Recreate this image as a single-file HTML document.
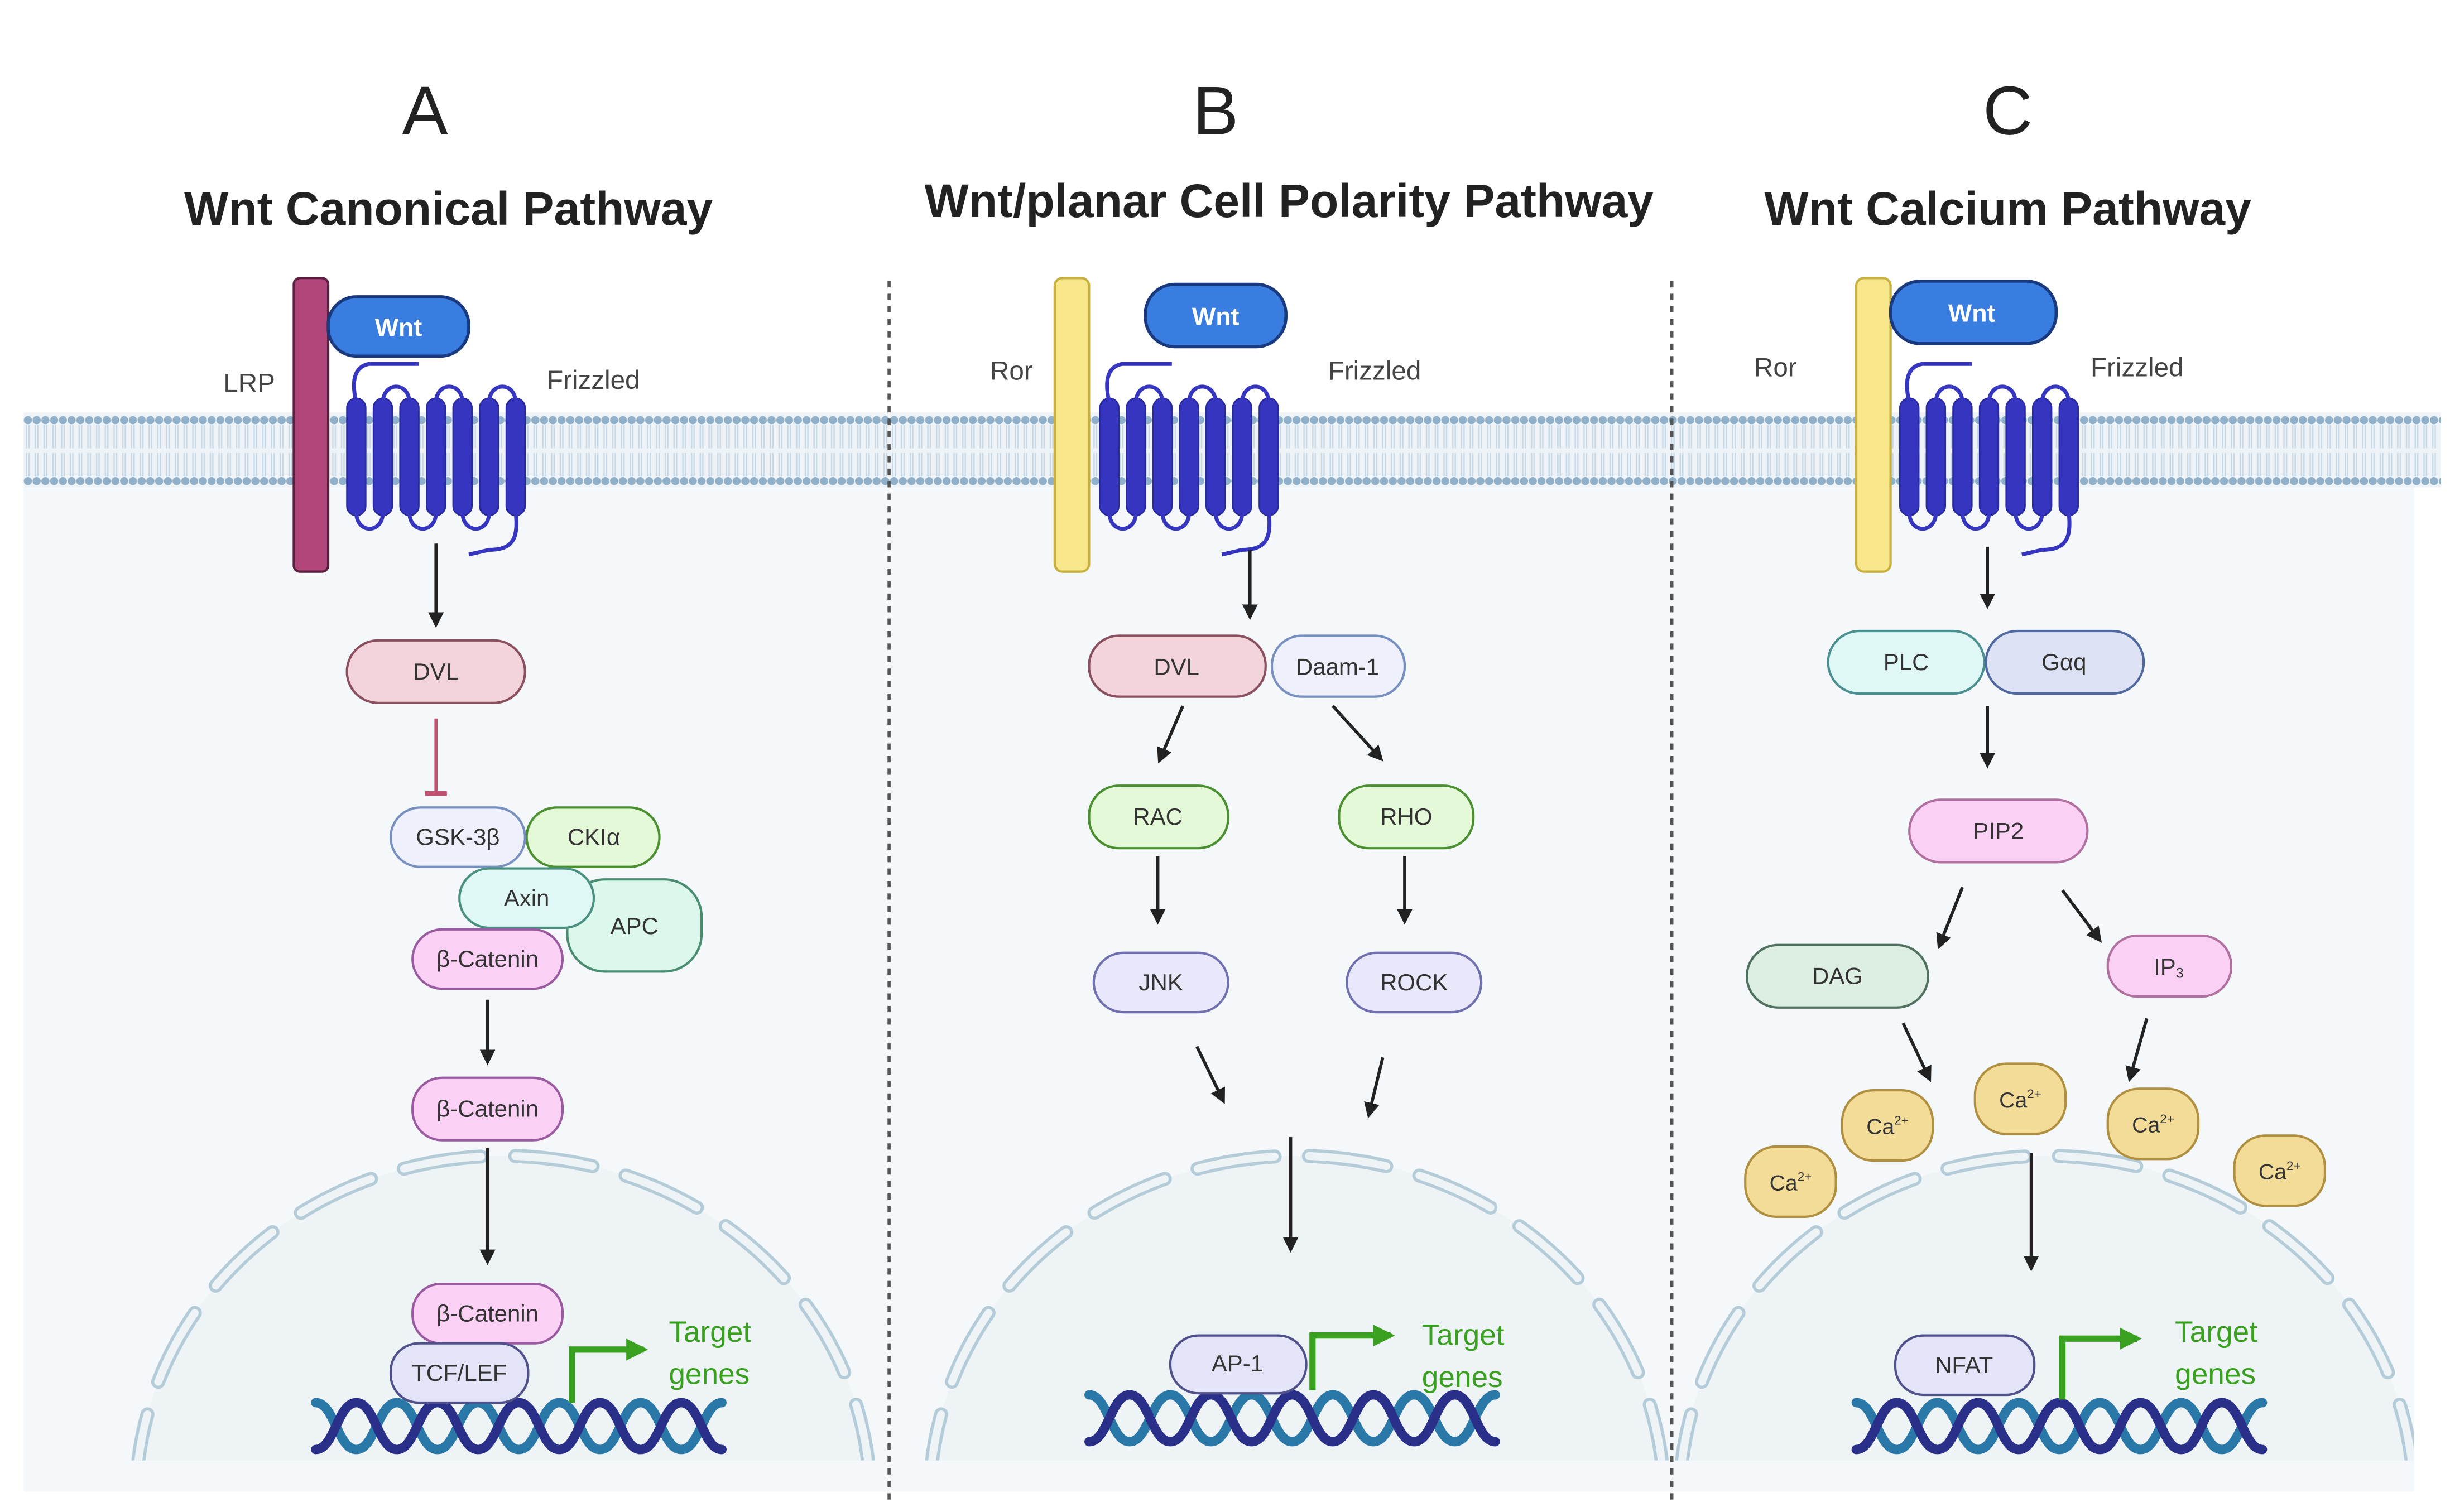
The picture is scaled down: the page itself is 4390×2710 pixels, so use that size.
<!DOCTYPE html>
<html><head><meta charset="utf-8"><style>
html,body{margin:0;padding:0;background:#fff;width:4390px;height:2710px;overflow:hidden}
svg{display:block}
text{font-family:"Liberation Sans",sans-serif}
</style></head><body>
<svg width="4390" height="2710" viewBox="0 0 1568 968" xmlns="http://www.w3.org/2000/svg">
<defs>
<pattern id="mem" x="15" y="0" width="5.6" height="968" patternUnits="userSpaceOnUse">
<line x1="2.0" y1="272" x2="2.0" y2="287" stroke="#c8d8e4" stroke-width="0.9"/>
<line x1="3.6" y1="272" x2="3.6" y2="287" stroke="#c8d8e4" stroke-width="0.9"/>
<line x1="2.0" y1="290" x2="2.0" y2="305" stroke="#c8d8e4" stroke-width="0.9"/>
<line x1="3.6" y1="290" x2="3.6" y2="305" stroke="#c8d8e4" stroke-width="0.9"/>
<circle cx="2.8" cy="269" r="2.6" fill="#8fb0c8"/>
<circle cx="2.8" cy="308" r="2.6" fill="#8fb0c8"/>
</pattern>
<g id="fz" fill="none" stroke="#3535c0" stroke-width="2.5">
<rect x="-6" y="255" width="12" height="75" rx="6" fill="#3535c0" stroke="#2a2aa0" stroke-width="1"/>
<rect x="11" y="255" width="12" height="75" rx="6" fill="#3535c0" stroke="#2a2aa0" stroke-width="1"/>
<rect x="28" y="255" width="12" height="75" rx="6" fill="#3535c0" stroke="#2a2aa0" stroke-width="1"/>
<rect x="45" y="255" width="12" height="75" rx="6" fill="#3535c0" stroke="#2a2aa0" stroke-width="1"/>
<rect x="62" y="255" width="12" height="75" rx="6" fill="#3535c0" stroke="#2a2aa0" stroke-width="1"/>
<rect x="79" y="255" width="12" height="75" rx="6" fill="#3535c0" stroke="#2a2aa0" stroke-width="1"/>
<rect x="96" y="255" width="12" height="75" rx="6" fill="#3535c0" stroke="#2a2aa0" stroke-width="1"/>
<path d="M17,258 C17,244 34,244 34,258 M51,258 C51,244 68,244 68,258 M85,258 C85,244 102,244 102,258"/>
<path d="M0,328 C0,342 17,342 17,328 M34,328 C34,342 51,342 51,328 M68,328 C68,342 85,342 85,328"/>
<path d="M0,258 C-3,245 -2,235 8,233 L40,233"/>
<path d="M102,328 C104,345 100,352 85,352 L72,355"/>
</g>
<g id="dna" fill="none" stroke-width="6" stroke-linecap="round">
<path d="M0,3 c12,0 14,30 26,30 s14,-30 26,-30 s14,30 26,30 s14,-30 26,-30 s14,30 26,30 s14,-30 26,-30 s14,30 26,30 s14,-30 26,-30 s14,30 26,30 s14,-30 26,-30" stroke="#2a78a8"/>
<path d="M0,33 c12,0 14,-30 26,-30 s14,30 26,30 s14,-30 26,-30 s14,30 26,30 s14,-30 26,-30 s14,30 26,30 s14,-30 26,-30 s14,30 26,30 s14,-30 26,-30 s14,30 26,30" stroke="#2a2f8a"/>
</g>
<marker id="ah" viewBox="0 0 10 10" refX="8" refY="5" markerWidth="5" markerHeight="5" orient="auto"><path d="M0,0 L10,5 L0,10 z" fill="#222"/></marker>
<marker id="gh" viewBox="0 0 10 10" refX="8" refY="5" markerWidth="3.5" markerHeight="3.5" orient="auto"><path d="M0,0 L10,5 L0,10 z" fill="#3aa020"/></marker>
<clipPath id="cl"><rect x="15" y="312" width="1530" height="623"/></clipPath>
</defs>

<rect x="0" y="0" width="1568" height="968" fill="#fff"/>
<rect x="15" y="300" width="1530" height="655" fill="#f5f8fa"/>
<g clip-path="url(#cl)">
<ellipse cx="322" cy="960" rx="235" ry="220" fill="#eef3f6"/>
<ellipse cx="322" cy="960" rx="235" ry="220" fill="none" stroke="#b4ccd8" stroke-width="9" stroke-dasharray="50 22" stroke-linecap="round"/>
<ellipse cx="322" cy="960" rx="235" ry="220" fill="none" stroke="#eef3f6" stroke-width="5" stroke-dasharray="50 22" stroke-linecap="round"/>
<ellipse cx="830" cy="960" rx="235" ry="220" fill="#eef3f6"/>
<ellipse cx="830" cy="960" rx="235" ry="220" fill="none" stroke="#b4ccd8" stroke-width="9" stroke-dasharray="50 22" stroke-linecap="round"/>
<ellipse cx="830" cy="960" rx="235" ry="220" fill="none" stroke="#eef3f6" stroke-width="5" stroke-dasharray="50 22" stroke-linecap="round"/>
<ellipse cx="1310" cy="960" rx="235" ry="220" fill="#eef3f6"/>
<ellipse cx="1310" cy="960" rx="235" ry="220" fill="none" stroke="#b4ccd8" stroke-width="9" stroke-dasharray="50 22" stroke-linecap="round"/>
<ellipse cx="1310" cy="960" rx="235" ry="220" fill="none" stroke="#eef3f6" stroke-width="5" stroke-dasharray="50 22" stroke-linecap="round"/>
</g>
<rect x="15" y="264" width="1547" height="48" fill="#eef3f7"/>
<rect x="15" y="264" width="1547" height="48" fill="url(#mem)"/>

<line x1="569" y1="180" x2="569" y2="960" stroke="#555" stroke-width="2" stroke-dasharray="4 4"/>
<line x1="1070" y1="180" x2="1070" y2="960" stroke="#555" stroke-width="2" stroke-dasharray="4 4"/>

<g fill="#222" text-anchor="middle">
<text x="272" y="86" font-size="44">A</text>
<text x="778" y="86" font-size="44">B</text>
<text x="1285" y="86" font-size="44">C</text>
<text x="287" y="144" font-size="30" font-weight="bold">Wnt Canonical Pathway</text>
<text x="825" y="139" font-size="30" font-weight="bold">Wnt/planar Cell Polarity Pathway</text>
<text x="1285" y="144" font-size="30" font-weight="bold">Wnt Calcium Pathway</text>
</g>

<g font-size="17" fill="#444">
<text x="176" y="251" text-anchor="end">LRP</text>
<text x="350" y="249">Frizzled</text>
<text x="661" y="243" text-anchor="end">Ror</text>
<text x="850" y="243">Frizzled</text>
<text x="1150" y="241" text-anchor="end">Ror</text>
<text x="1338" y="241">Frizzled</text>
</g>

<use href="#fz" x="228"/>
<rect x="188" y="178" width="22" height="188" rx="4" fill="#b0467a" stroke="#5a2040" stroke-width="1.5"/>
<rect x="210" y="190" width="90" height="38" rx="18" fill="#3a7de0" stroke="#1a3a80" stroke-width="2"/>
<text x="255" y="215" font-size="16" font-weight="bold" fill="#fff" text-anchor="middle">Wnt</text>

<use href="#fz" x="710"/>
<rect x="675" y="178" width="22" height="188" rx="5" fill="#f7e68a" stroke="#c8b040" stroke-width="1.5"/>
<rect x="733" y="182" width="90" height="40" rx="19" fill="#3a7de0" stroke="#1a3a80" stroke-width="2"/>
<text x="778" y="208" font-size="16" font-weight="bold" fill="#fff" text-anchor="middle">Wnt</text>

<use href="#fz" x="1222"/>
<rect x="1188" y="178" width="22" height="188" rx="5" fill="#f7e68a" stroke="#c8b040" stroke-width="1.5"/>
<rect x="1210" y="180" width="106" height="40" rx="19" fill="#3a7de0" stroke="#1a3a80" stroke-width="2"/>
<text x="1262" y="206" font-size="16" font-weight="bold" fill="#fff" text-anchor="middle">Wnt</text>

<g stroke="#222" stroke-width="2" marker-end="url(#ah)">
<line x1="279" y1="348" x2="279" y2="400"/>
<line x1="312" y1="640" x2="312" y2="680"/>
<line x1="312" y1="735" x2="312" y2="808"/>
<line x1="800" y1="352" x2="800" y2="395"/>
<line x1="757" y1="452" x2="742" y2="487"/>
<line x1="853" y1="452" x2="884" y2="486"/>
<line x1="741" y1="548" x2="741" y2="590"/>
<line x1="899" y1="548" x2="899" y2="590"/>
<line x1="766" y1="670" x2="783" y2="705"/>
<line x1="885" y1="677" x2="876" y2="714"/>
<line x1="826" y1="728" x2="826" y2="800"/>
<line x1="1272" y1="350" x2="1272" y2="388"/>
<line x1="1272" y1="452" x2="1272" y2="490"/>
<line x1="1256" y1="568" x2="1241" y2="606"/>
<line x1="1320" y1="570" x2="1344" y2="602"/>
<line x1="1218" y1="655" x2="1235" y2="691"/>
<line x1="1374" y1="652" x2="1363" y2="691"/>
<line x1="1300" y1="738" x2="1300" y2="812"/>
</g>
<line x1="279" y1="460" x2="279" y2="508" stroke="#c05070" stroke-width="2"/>
<line x1="272" y1="508" x2="286" y2="508" stroke="#c05070" stroke-width="3"/>

<!-- DNA (behind nuclear nodes) -->
<use href="#dna" x="202" y="895"/>
<use href="#dna" x="697" y="890"/>
<use href="#dna" x="1188" y="895"/>

<g font-size="15" fill="#333" text-anchor="middle" stroke-width="1.5">
<rect x="222" y="410" width="114" height="40" rx="20" fill="#f2d4da" stroke="#8a5060"/>
<text x="279" y="435" stroke="none">DVL</text>

<rect x="337" y="517" width="85" height="38" rx="19" fill="#e4f9d8" stroke="#4a9030"/>
<text x="380" y="541" stroke="none">CKIα</text>
<rect x="250" y="517" width="86" height="38" rx="19" fill="#eef0fc" stroke="#7890c0"/>
<text x="293" y="541" stroke="none">GSK-3β</text>
<rect x="363" y="563" width="86" height="59" rx="24" fill="#dcf8ec" stroke="#4a8c70"/>
<text x="406" y="598" stroke="none">APC</text>
<rect x="294" y="556" width="86" height="38" rx="19" fill="#e0f8f5" stroke="#4a9080"/>
<text x="337" y="580" stroke="none">Axin</text>
<rect x="264" y="595" width="96" height="38" rx="19" fill="#fad0f4" stroke="#9a5aa0"/>
<text x="312" y="619" stroke="none">β-Catenin</text>
<rect x="264" y="690" width="96" height="40" rx="19" fill="#fad0f4" stroke="#9a5aa0"/>
<text x="312" y="715" stroke="none">β-Catenin</text>
<rect x="264" y="822" width="96" height="38" rx="18" fill="#fad0f4" stroke="#9a5aa0"/>
<text x="312" y="846" stroke="none">β-Catenin</text>
<rect x="250" y="860" width="88" height="38" rx="18" fill="#e4e4f8" stroke="#50508a"/>
<text x="294" y="884" stroke="none">TCF/LEF</text>

<rect x="697" y="407" width="113" height="39" rx="19" fill="#f2d4da" stroke="#8a5060"/>
<text x="753" y="432" stroke="none">DVL</text>
<rect x="814" y="407" width="85" height="39" rx="19" fill="#eef0fc" stroke="#7890c0"/>
<text x="856" y="432" stroke="none">Daam-1</text>
<rect x="697" y="503" width="89" height="40" rx="19" fill="#e4f9d8" stroke="#4a9030"/>
<text x="741" y="528" stroke="none">RAC</text>
<rect x="857" y="503" width="86" height="40" rx="19" fill="#e4f9d8" stroke="#4a9030"/>
<text x="900" y="528" stroke="none">RHO</text>
<rect x="700" y="610" width="86" height="38" rx="19" fill="#e8e8fa" stroke="#7070b0"/>
<text x="743" y="634" stroke="none">JNK</text>
<rect x="862" y="610" width="86" height="38" rx="19" fill="#e8e8fa" stroke="#7070b0"/>
<text x="905" y="634" stroke="none">ROCK</text>
<rect x="749" y="855" width="87" height="37" rx="18" fill="#e4e4f8" stroke="#50508a"/>
<text x="792" y="878" stroke="none">AP-1</text>

<rect x="1170" y="404" width="100" height="40" rx="20" fill="#e0f8f5" stroke="#4a9090"/>
<text x="1220" y="429" stroke="none">PLC</text>
<rect x="1271" y="404" width="101" height="40" rx="20" fill="#dde2f5" stroke="#5068a0"/>
<text x="1321" y="429" stroke="none">Gαq</text>
<rect x="1222" y="512" width="114" height="40" rx="20" fill="#fad0f4" stroke="#b070a0"/>
<text x="1279" y="537" stroke="none">PIP2</text>
<rect x="1118" y="605" width="116" height="40" rx="20" fill="#ddeee2" stroke="#507060"/>
<text x="1176" y="630" stroke="none">DAG</text>
<rect x="1349" y="599" width="79" height="39" rx="19" fill="#fad0f4" stroke="#b070a0"/>
<text x="1388" y="624" stroke="none">IP<tspan font-size="9" dy="2">3</tspan></text>
<rect x="1213" y="855" width="89" height="38" rx="18" fill="#e4e4f8" stroke="#50508a"/>
<text x="1257" y="879" stroke="none">NFAT</text>
</g>

<g font-size="14" fill="#333" text-anchor="middle">
<rect x="1179" y="698" width="58" height="45" rx="20" fill="#f3dc98" stroke="#b09040" stroke-width="1.5"/>
<text x="1208" y="726">Ca<tspan font-size="8" dy="-6">2+</tspan></text>
<rect x="1264" y="681" width="58" height="45" rx="20" fill="#f3dc98" stroke="#b09040" stroke-width="1.5"/>
<text x="1293" y="709">Ca<tspan font-size="8" dy="-6">2+</tspan></text>
<rect x="1349" y="697" width="58" height="45" rx="20" fill="#f3dc98" stroke="#b09040" stroke-width="1.5"/>
<text x="1378" y="725">Ca<tspan font-size="8" dy="-6">2+</tspan></text>
<rect x="1117" y="734" width="58" height="45" rx="20" fill="#f3dc98" stroke="#b09040" stroke-width="1.5"/>
<text x="1146" y="762">Ca<tspan font-size="8" dy="-6">2+</tspan></text>
<rect x="1430" y="727" width="58" height="45" rx="20" fill="#f3dc98" stroke="#b09040" stroke-width="1.5"/>
<text x="1459" y="755">Ca<tspan font-size="8" dy="-6">2+</tspan></text>
</g>

<g fill="none" stroke="#3aa020" stroke-width="4" marker-end="url(#gh)">
<path d="M366,898 L366,864 L412,864"/>
<path d="M840,890 L840,855 L890,855"/>
<path d="M1320,896 L1320,857 L1368,857"/>
</g>
<g font-size="19" fill="#3aa020">
<text x="428" y="859">Target</text><text x="428" y="886">genes</text>
<text x="910" y="861">Target</text><text x="910" y="888">genes</text>
<text x="1392" y="859">Target</text><text x="1392" y="886">genes</text>
</g>
</svg>
</body></html>
